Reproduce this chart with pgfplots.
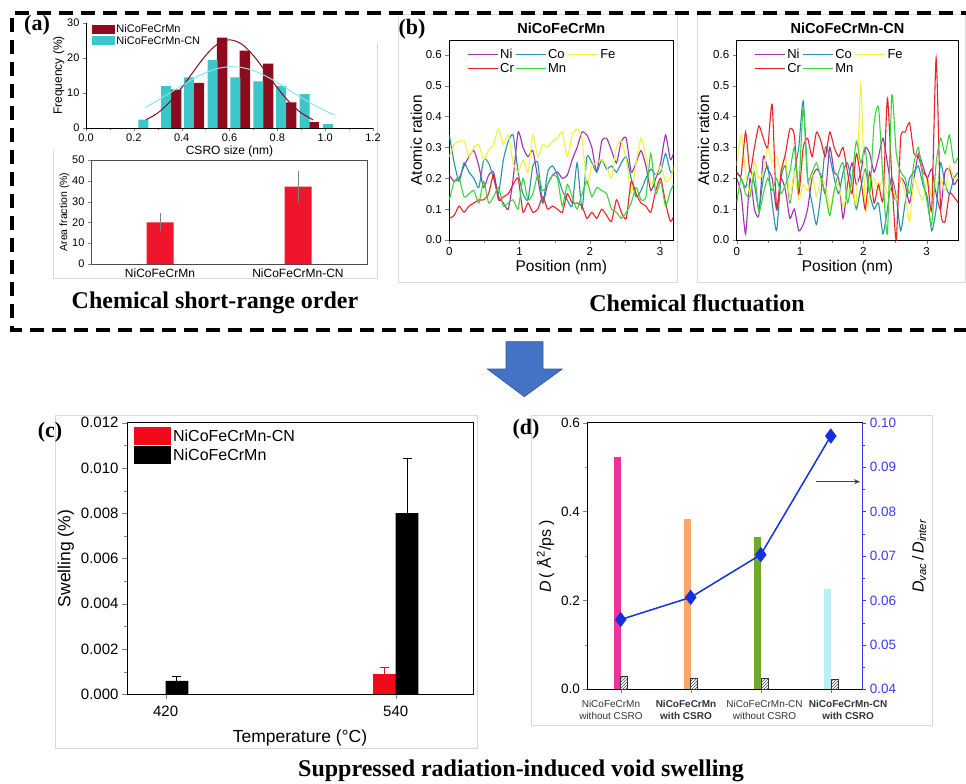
\documentclass[border=0pt]{standalone}
\usepackage{pgfplots}
\pgfplotsset{compat=1.18}
\usepackage{pgfplotstable}
\usetikzlibrary{patterns,arrows.meta}
\usepackage{fontspec}
\setmainfont{Liberation Sans}
\newfontfamily\tnr{Liberation Serif}
\newcommand\fs[1]{\fontsize{#1}{#1}\selectfont}

\definecolor{brownbar}{HTML}{8C0C1E}
\definecolor{cyanbar}{HTML}{3EC5C9}
\definecolor{browncurve}{HTML}{7A1020}
\definecolor{cyancurve}{HTML}{8AE6E6}
\definecolor{areared}{HTML}{F0142D}
\definecolor{cNi}{HTML}{A030B0}
\definecolor{cCo}{HTML}{2494A4}
\definecolor{cFe}{HTML}{F2F23A}
\definecolor{cCr}{HTML}{E8232A}
\definecolor{cMn}{HTML}{3CD23C}
\definecolor{swred}{HTML}{F20A1A}
\definecolor{dmag}{HTML}{F0339C}
\definecolor{dorange}{HTML}{F7A76C}
\definecolor{dgreen}{HTML}{6DAA2C}
\definecolor{dcyan}{HTML}{B8F0F6}
\definecolor{lineblue}{HTML}{1530E0}
\definecolor{axisblue}{HTML}{3A3AF0}
\definecolor{arrowblue}{HTML}{4472C4}

% chemical fluctuation profiles
\pgfplotstableread{
x    Ni   Co   Fe   Cr   Mn
0.00 0.21 0.34 0.27 0.07 0.13
0.07 0.19 0.25 0.31 0.08 0.19
0.14 0.20 0.19 0.32 0.11 0.20
0.21 0.24 0.25 0.32 0.09 0.14
0.28 0.27 0.22 0.27 0.11 0.15
0.35 0.29 0.20 0.30 0.12 0.16
0.42 0.24 0.17 0.31 0.13 0.12
0.49 0.17 0.26 0.26 0.13 0.19
0.56 0.21 0.25 0.29 0.15 0.12
0.63 0.22 0.20 0.31 0.21 0.14
0.70 0.14 0.15 0.36 0.13 0.17
0.77 0.12 0.26 0.31 0.14 0.11
0.84 0.10 0.32 0.34 0.15 0.12
0.91 0.20 0.34 0.25 0.18 0.13
0.98 0.35 0.22 0.22 0.20 0.10
1.05 0.30 0.15 0.26 0.09 0.20
1.12 0.27 0.13 0.22 0.12 0.13
1.19 0.29 0.24 0.34 0.09 0.15
1.26 0.20 0.25 0.27 0.10 0.21
1.33 0.12 0.12 0.31 0.14 0.16
1.40 0.18 0.22 0.30 0.10 0.18
1.47 0.21 0.24 0.32 0.11 0.21
1.54 0.22 0.21 0.33 0.10 0.20
1.61 0.20 0.16 0.35 0.09 0.11
1.68 0.21 0.13 0.27 0.15 0.18
1.75 0.26 0.11 0.34 0.12 0.14
1.82 0.30 0.25 0.36 0.12 0.10
1.89 0.35 0.10 0.33 0.11 0.15
1.96 0.34 0.27 0.18 0.07 0.19
2.03 0.30 0.25 0.24 0.09 0.14
2.10 0.22 0.22 0.25 0.07 0.17
2.17 0.32 0.26 0.26 0.10 0.16
2.24 0.33 0.23 0.24 0.08 0.15
2.31 0.29 0.24 0.20 0.06 0.10
2.38 0.25 0.22 0.30 0.13 0.09
2.45 0.32 0.25 0.32 0.09 0.07
2.52 0.33 0.27 0.26 0.07 0.09
2.59 0.22 0.20 0.15 0.19 0.12
2.66 0.25 0.14 0.25 0.15 0.17
2.73 0.29 0.16 0.33 0.12 0.13
2.80 0.24 0.20 0.27 0.11 0.14
2.87 0.16 0.23 0.18 0.09 0.28
2.94 0.20 0.21 0.21 0.16 0.15
3.01 0.25 0.22 0.24 0.20 0.19
3.08 0.34 0.28 0.19 0.12 0.11
3.15 0.26 0.22 0.20 0.06 0.16
3.22 0.30 0.23 0.26 0.09 0.19
}\profA

\pgfplotstableread{
x    Ni   Co   Fe   Cr   Mn
0.00 0.20 0.22 0.24 0.22 0.12
0.07 0.15 0.20 0.34 0.21 0.20
0.14 0.02 0.17 0.22 0.35 0.15
0.21 0.20 0.23 0.15 0.22 0.14
0.28 0.10 0.18 0.25 0.30 0.22
0.35 0.08 0.10 0.20 0.37 0.09
0.42 0.27 0.20 0.22 0.33 0.15
0.49 0.23 0.24 0.30 0.30 0.20
0.56 0.20 0.12 0.25 0.44 0.16
0.63 0.10 0.03 0.27 0.10 0.20
0.70 0.20 0.20 0.22 0.22 0.15
0.77 0.16 0.24 0.27 0.28 0.18
0.84 0.07 0.12 0.13 0.36 0.22
0.91 0.10 0.22 0.22 0.34 0.30
0.98 0.03 0.30 0.13 0.15 0.17
1.05 0.05 0.45 0.18 0.30 0.43
1.12 0.10 0.20 0.16 0.33 0.20
1.19 0.20 0.12 0.22 0.27 0.22
1.26 0.23 0.05 0.14 0.35 0.25
1.33 0.21 0.15 0.20 0.32 0.20
1.40 0.15 0.30 0.18 0.27 0.15
1.47 0.30 0.27 0.10 0.35 0.08
1.54 0.22 0.20 0.16 0.30 0.16
1.61 0.20 0.15 0.18 0.27 0.22
1.68 0.07 0.22 0.11 0.30 0.25
1.75 0.18 0.25 0.15 0.22 0.12
1.82 0.25 0.18 0.19 0.15 0.20
1.89 0.18 0.10 0.12 0.28 0.32
1.96 0.22 0.17 0.51 0.20 0.25
2.03 0.30 0.23 0.10 0.10 0.30
2.10 0.28 0.15 0.15 0.22 0.15
2.17 0.22 0.10 0.20 0.12 0.38
2.24 0.27 0.12 0.16 0.18 0.43
2.31 0.33 0.02 0.20 0.13 0.20
2.38 0.25 0.10 0.15 0.46 0.02
2.45 0.16 0.20 0.18 0.20 0.47
2.52 0.13 0.14 0.13 0.00 0.28
2.59 0.20 0.03 0.20 0.33 0.22
2.66 0.18 0.12 0.15 0.35 0.20
2.73 0.12 0.20 0.06 0.38 0.15
2.80 0.20 0.22 0.20 0.28 0.25
2.87 0.28 0.24 0.16 0.27 0.30
2.94 0.24 0.18 0.13 0.22 0.20
3.01 0.20 0.14 0.20 0.20 0.12
3.08 0.23 0.03 0.14 0.10 0.05
3.15 0.15 0.10 0.18 0.59 0.25
3.22 0.10 0.25 0.20 0.10 0.33
3.29 0.22 0.18 0.16 0.06 0.28
3.36 0.23 0.15 0.24 0.15 0.34
3.43 0.18 0.20 0.20 0.14 0.25
3.50 0.20 0.22 0.20 0.12 0.27
}\profB

\pgfplotsset{
  every axis/.append style={scale only axis, anchor=south west,
    /pgf/number format/assume math mode=true, scaled ticks=false},
  patch/.style n args={2}{legend image code/.code={\fill[##1] (0pt,-#2) rectangle (#1,#2);}},
  profile/.style={
    width=224pt, height=199.3pt, ymin=0, ymax=0.646,
    ytick={0,0.1,0.2,0.3,0.4,0.5,0.6},
    yticklabels={0.0,0.1,0.2,0.3,0.4,0.5,0.6},
    xtick={0,1,2,3}, minor x tick num=1,
    tick align=outside, major tick length=4pt, minor tick length=2.5pt,
    xtick pos=bottom, ytick pos=left,
    axis line style={line width=0.9pt},
    ticklabel style={font=\fs{11.5}},
    label style={font=\fs{15.5}},
    xlabel={Position (nm)}, ylabel={Atomic ration},
    xlabel style={yshift=2pt}, ylabel style={yshift=-3pt},
    title style={font=\bfseries\fs{14.5}, yshift=-2pt},
    legend columns=3,
    legend style={draw=none, fill=none, anchor=north west, at={(0.08,0.97)},
      font=\fs{13}, inner sep=0pt, row sep=-2pt,
      nodes={inner xsep=1.5pt, inner ysep=2.5pt}},
    legend cell align=left,
    legend image code/.code={\draw[##1, line width=1.2pt] (0pt,0pt) -- (30pt,0pt);},
    every axis plot/.append style={line width=1.1pt, smooth, tension=0.35},
  },
}

\begin{document}
\begin{tikzpicture}
\useasboundingbox (0pt,0pt) rectangle (966pt,-784pt);

% light frames of the sub-figures
\draw[gray!30, line width=0.8pt] (53pt,-150pt) -- (53pt,-278pt) -- (377pt,-278pt) -- (377pt,-43pt);
\draw[gray!30, line width=0.8pt] (398pt,-14pt) rectangle (677pt,-282pt);
\draw[gray!30, line width=0.8pt] (697pt,-14pt) rectangle (965pt,-282pt);
\draw[gray!30, line width=0.8pt] (55pt,-415pt) rectangle (477pt,-748pt);
\draw[gray!30, line width=0.8pt] (531.7pt,-415pt) rectangle (932.7pt,-725.7pt);

% (a) top: CSRO size histogram
\begin{axis}[at={(86pt,-128pt)}, width=287pt, height=105pt,
  xmin=0, xmax=1.2, ymin=0, ymax=30,
  axis x line=bottom, axis y line=left, axis line style={-, line width=0.8pt},
  xtick={0,0.2,0.4,0.6,0.8,1.0,1.2}, xticklabels={0.0,0.2,0.4,0.6,0.8,1.0,1.2},
  ytick={0,10,20,30}, minor x tick num=1,
  tick align=outside, major tick length=3pt, minor tick length=2pt,
  ticklabel style={font=\fs{11}},
  xticklabel style={yshift=1pt},
  label style={font=\fs{12}},
  xlabel={CSRO size (nm)}, ylabel={Frequency (\%)},
  xlabel style={yshift=2pt}, ylabel style={yshift=-4pt},
  legend style={draw=none, fill=none, at={(0.02,1.0)}, anchor=north west,
    font=\fs{11}, inner sep=0pt, row sep=-1pt, nodes={inner sep=1.5pt}},
  legend cell align=left]
\addplot[ybar, bar width=10.5pt, bar shift=0pt, fill=brownbar, draw=none, patch={23pt}{4.5pt}]
  coordinates {(0.377,11.0) (0.472,12.9) (0.569,25.8) (0.664,22.1) (0.762,18.4) (0.858,7.3) (0.952,1.7)};
\addlegendentry{NiCoFeCrMn}
\addplot[ybar, bar width=10pt, bar shift=0pt, fill=cyanbar, draw=none, patch={23pt}{4.5pt}]
  coordinates {(0.240,2.4) (0.335,12.0) (0.430,14.5) (0.529,19.5) (0.625,14.5) (0.721,13.3) (0.816,12.0) (0.914,9.7) (1.012,1.1)};
\addlegendentry{NiCoFeCrMn-CN}
\addplot[browncurve, line width=1pt, smooth, forget plot] coordinates {
  (0.25,2.3) (0.30,4.3) (0.35,7.4) (0.40,11.5) (0.45,16.2) (0.50,20.7) (0.55,24.0) (0.60,25.2)
  (0.65,24.0) (0.70,20.7) (0.75,16.2) (0.80,11.5) (0.85,7.4) (0.90,4.3) (0.95,2.3)};
\addplot[cyancurve, line width=1pt, smooth, forget plot] coordinates {
  (0.25,5.9) (0.30,7.9) (0.35,10.0) (0.40,12.1) (0.45,14.1) (0.50,15.8) (0.55,17.0) (0.60,17.5)
  (0.65,17.3) (0.70,16.4) (0.75,14.9) (0.80,13.0) (0.85,10.8) (0.90,8.7) (0.95,6.7) (1.00,4.9) (1.04,3.75)};
\end{axis}

% (a) bottom: area fraction
\begin{axis}[at={(91pt,-264pt)}, width=276pt, height=104pt,
  xmin=-0.5, xmax=1.5, ymin=0, ymax=50,
  axis line style={black!70, line width=0.7pt},
  xtick={0,1}, xticklabels={NiCoFeCrMn,NiCoFeCrMn-CN}, xtick style={draw=none},
  ytick={0,10,20,30,40,50}, ytick pos=left, tick align=outside, major tick length=3pt,
  xticklabel style={font=\fs{12}, yshift=2pt}, yticklabel style={font=\fs{11}},
  ylabel={Area fraction (\%)}, ylabel style={font=\fs{10.5}, yshift=-4pt}]
\addplot[ybar, bar width=27pt, bar shift=0pt, fill=areared, draw=none,
  error bars/.cd, y dir=both, y explicit, error mark=none,
  error bar style={gray, line width=0.8pt}]
  coordinates {(0,20.0) +- (0,4.3) (1,37.2) +- (0,7.7)};
\end{axis}

% (b) chemical fluctuation, NiCoFeCrMn
\begin{axis}[profile, at={(449.3pt,-240pt)}, xmin=0, xmax=3.19, title={NiCoFeCrMn}]
\addplot[cNi] table[x=x, y=Ni] {\profA}; \addlegendentry{Ni}
\addplot[cCo] table[x=x, y=Co] {\profA}; \addlegendentry{Co}
\addplot[cFe] table[x=x, y=Fe] {\profA}; \addlegendentry{Fe}
\addplot[cCr] table[x=x, y=Cr] {\profA}; \addlegendentry{Cr}
\addplot[cMn] table[x=x, y=Mn] {\profA}; \addlegendentry{Mn}
\end{axis}

% (b) chemical fluctuation, NiCoFeCrMn-CN
\begin{axis}[profile, at={(736.7pt,-240pt)}, width=221.6pt, xmin=0, xmax=3.5, title={NiCoFeCrMn-CN}]
\addplot[cNi] table[x=x, y=Ni] {\profB}; \addlegendentry{Ni}
\addplot[cCo] table[x=x, y=Co] {\profB}; \addlegendentry{Co}
\addplot[cFe] table[x=x, y=Fe] {\profB}; \addlegendentry{Fe}
\addplot[cCr] table[x=x, y=Cr] {\profB}; \addlegendentry{Cr}
\addplot[cMn] table[x=x, y=Mn] {\profB}; \addlegendentry{Mn}
\end{axis}

% (c) swelling; bars sit half a bar width either side of the tick
\begin{axis}[at={(127pt,-694.3pt)}, width=346pt, height=271.6pt,
  xmin=-0.168, xmax=1.336, ymin=0, ymax=0.012,
  axis line style={line width=1pt},
  xtick={0,1}, xticklabels={420,540}, xtick pos=bottom, ytick pos=left,
  ytick={0,0.002,0.004,0.006,0.008,0.010,0.012},
  yticklabels={0.000,0.002,0.004,0.006,0.008,0.010,0.012},
  minor y tick num=1, tick align=outside, major tick length=5pt, minor tick length=3pt,
  ticklabel style={font=\fs{15}},
  xticklabel style={yshift=-3pt},
  label style={font=\fs{17.5}},
  xlabel={Temperature (°C)}, ylabel={Swelling (\%)},
  xlabel style={yshift=-6pt},
  legend style={draw=none, fill=none, at={(0.02,0.985)}, anchor=north west,
    font=\fs{16}, inner sep=0pt, row sep=1pt, nodes={inner sep=2pt}},
  legend cell align=left]
\addplot[ybar, bar width=22.7pt, bar shift=0pt, fill=swred, draw=none, patch={37pt}{9pt},
  error bars/.cd, y dir=plus, y explicit, error bar style={swred, line width=1pt},
  error mark options={rotate=90, mark size=4.5pt, line width=1pt}]
  coordinates {(0.9507,0.00088) +- (0,0.00029)};
\addlegendentry{NiCoFeCrMn-CN}
\addplot[ybar, bar width=22.7pt, bar shift=0pt, fill=black, draw=none, patch={37pt}{9pt},
  error bars/.cd, y dir=plus, y explicit, error bar style={black, line width=1pt},
  error mark options={rotate=90, mark size=4.5pt, line width=1pt}]
  coordinates {(0.0493,0.00059) +- (0,0.00019) (1.0493,0.0080) +- (0,0.00242)};
\addlegendentry{NiCoFeCrMn}
\end{axis}

% (d) diffusion coefficients
\begin{axis}[at={(587.3pt,-689.3pt)}, width=275pt, height=266.6pt,
  xmin=-0.477, xmax=3.45, ymin=0, ymax=0.6, clip=false,
  axis line style={line width=0.8pt},
  xtick={0,1,2,3}, xticklabels={}, xtick pos=bottom, ytick pos=left,
  ytick={0,0.2,0.4,0.6}, yticklabels={0.0,0.2,0.4,0.6}, minor y tick num=1,
  yticklabel style={font=\fs{13.5}},
  tick align=outside, major tick length=4pt, minor tick length=2.5pt,
  ylabel={\textit{D}\,( Å\textsuperscript{2}/ps )}, ylabel style={font=\fs{16}}]
\addplot[ybar, bar width=7pt, bar shift=-3.5pt, fill=dmag, draw=none] coordinates {(0,0.523)};
\addplot[ybar, bar width=7pt, bar shift=-3.5pt, fill=dorange, draw=none] coordinates {(1,0.384)};
\addplot[ybar, bar width=7pt, bar shift=-3.5pt, fill=dgreen, draw=none] coordinates {(2,0.343)};
\addplot[ybar, bar width=7pt, bar shift=-3.5pt, fill=dcyan, draw=none] coordinates {(3,0.226)};
\addplot[ybar, bar width=7pt, bar shift=3.5pt, fill=white, draw=black!80, line width=0.5pt,
  postaction={pattern=north east lines, pattern color=black!70}]
  coordinates {(0,0.030) (1,0.024) (2,0.024) (3,0.023)};
\begin{scope}[every node/.style={anchor=north, align=center, text=black!80,
    font=\fontsize{10}{11.6}\selectfont, inner sep=0pt, yshift=-11pt}]
\node at (axis cs:-0.139,0) {NiCoFeCrMn\\without CSRO};
\node at (axis cs:0.933,0) {\textbf{NiCoFeCrMn}\\\textbf{with CSRO}};
\node at (axis cs:2.054,0) {NiCoFeCrMn-CN\\without CSRO};
\node at (axis cs:3.247,0) {\textbf{NiCoFeCrMn-CN}\\\textbf{with CSRO}};
\end{scope}
\end{axis}
\begin{axis}[at={(587.3pt,-689.3pt)}, width=275pt, height=266.6pt,
  xmin=-0.477, xmax=3.45, ymin=0.04, ymax=0.10,
  axis x line=none, axis y line*=right,
  y axis line style={axisblue, line width=0.8pt},
  ytick={0.04,0.05,0.06,0.07,0.08,0.09,0.10},
  yticklabels={0.04,0.05,0.06,0.07,0.08,0.09,0.10}, minor y tick num=1,
  ytick style={axisblue}, yticklabel style={font=\fs{13.5}, text=axisblue},
  tick align=outside, major tick length=4pt, minor tick length=2.5pt,
  ylabel={\textit{D}\textsubscript{\textit{vac}}\,/\,\textit{D}\textsubscript{\textit{inter}}},
  ylabel style={font=\fs{16}, yshift=-9pt}]
\addplot[lineblue, line width=1.5pt, mark=diamond*, mark size=6.5pt, mark options={fill=lineblue}]
  coordinates {(0,0.0557) (1,0.0607) (2,0.0703) (3,0.0970)};
\end{axis}
\draw[-{Stealth[length=6pt, width=5pt]}, black!75, line width=1pt] (816pt,-481.7pt) -- (860pt,-481.7pt);

% dashed frame, arrow, panel letters and captions
\draw[line width=3.2pt, dash pattern=on 14pt off 8pt] (975pt,-13pt) -- (12pt,-13pt) -- (12pt,-330pt) -- (975pt,-330pt);
\draw[fill=arrowblue, draw=arrowblue!75!black, line width=0.6pt]
  (506pt,-341.7pt) -- (543pt,-341.7pt) -- (543pt,-369pt) -- (562.3pt,-369pt)
  -- (524.3pt,-396.7pt) -- (487.3pt,-369pt) -- (506pt,-369pt) -- cycle;
\node[font=\tnr\bfseries\fs{22}] at (37pt,-25pt) {(a)};
\node[font=\tnr\bfseries\fs{22}] at (412pt,-29pt) {(b)};
\node[font=\tnr\bfseries\fs{22}] at (50pt,-432pt) {(c)};
\node[font=\tnr\bfseries\fs{22}] at (526pt,-429pt) {(d)};
\node[font=\tnr\bfseries\fs{24}] at (215pt,-303pt) {Chemical short-range order};
\node[font=\tnr\bfseries\fs{24}] at (697pt,-303pt) {Chemical fluctuation};
\node[font=\tnr\bfseries\fs{24}] at (521pt,-771pt) {Suppressed radiation-induced void swelling};
\end{tikzpicture}
\end{document}
